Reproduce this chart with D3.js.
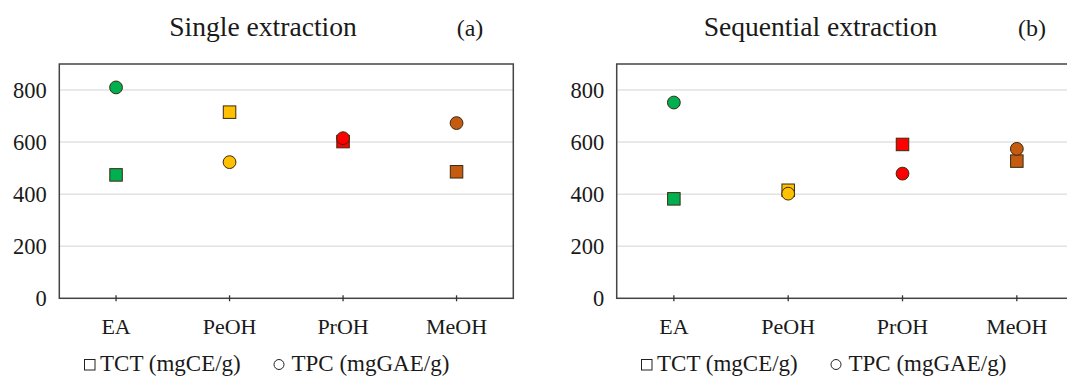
<!DOCTYPE html>
<html>
<head>
<meta charset="utf-8">
<script src="https://cdn.jsdelivr.net/npm/d3@7"></script>
<style>
  body { margin: 0; background: #fff; }
  svg text { font-family: "Liberation Serif", "Times New Roman", serif; fill: #1a1a1a; }
</style>
</head>
<body>
<div id="chart"></div>
<script>
// data
var solvents = ["EA", "PeOH", "PrOH", "MeOH"];
var solventColors = ["#00B050", "#FFC000", "#FF0000", "#C55A11"];
var singleTCT = [474, 715, 602, 486];
var singleTPC = [810, 523, 615, 673];
var seqTCT = [382, 415, 591, 527];
var seqTPC = [752, 402, 479, 574];
var yTicks = [0, 200, 400, 600, 800];
var legendLabels = ["TCT (mgCE/g)", "TPC (mgGAE/g)"];

var W = 1067, H = 376;
var svg = d3.select("#chart").append("svg")
    .attr("width", W)
    .attr("height", H);

var yScale = d3.scaleLinear().domain([0, 900]).range([298.3, 64]);

function drawPanel(p) {
    var g = svg.append("g");
    var xScale = d3.scaleBand().domain(solvents).range([p.left, p.right]).padding(0);
    var color = d3.scaleOrdinal().domain(solvents).range(solventColors);
    var cx = function(d) { return xScale(d) + xScale.bandwidth() / 2; };

    // gridlines
    g.append("g").selectAll("line")
        .data(yTicks.filter(function(d) { return d > 0; }))
        .enter().append("line")
        .attr("x1", p.left).attr("x2", p.right)
        .attr("y1", function(d) { return yScale(d); })
        .attr("y2", function(d) { return yScale(d); })
        .attr("stroke", "#e2e2e2")
        .attr("stroke-width", 1.5);

    // frame
    g.append("rect")
        .attr("x", p.left).attr("y", yScale(900))
        .attr("width", p.right - p.left)
        .attr("height", yScale(0) - yScale(900))
        .attr("fill", "none")
        .attr("stroke", "#444")
        .attr("stroke-width", 1.5);

    // y tick labels
    g.append("g").selectAll("text")
        .data(yTicks)
        .enter().append("text")
        .attr("x", p.left - 12.5)
        .attr("y", function(d) { return yScale(d); })
        .attr("dy", "0.35em")
        .style("text-anchor", "end")
        .style("font-size", "22.5px")
        .text(function(d) { return d; });

    // x ticks + labels
    g.append("g").selectAll("line")
        .data(solvents)
        .enter().append("line")
        .attr("x1", cx).attr("x2", cx)
        .attr("y1", yScale(0) - 3).attr("y2", yScale(0) + 3)
        .attr("stroke", "#333")
        .attr("stroke-width", 1.3);
    g.append("g").selectAll("text")
        .data(solvents)
        .enter().append("text")
        .attr("x", cx)
        .attr("y", 334)
        .style("text-anchor", "middle")
        .style("font-size", "22px")
        .text(function(d) { return d; });

    // squares (TCT) first, circles (TPC) on top
    var s = 12.5;
    g.append("g").selectAll("rect")
        .data(p.tct)
        .enter().append("rect")
        .attr("x", function(d, i) { return cx(solvents[i]) - s / 2; })
        .attr("y", function(d) { return yScale(d) - s / 2; })
        .attr("width", s).attr("height", s)
        .attr("fill", function(d, i) { return color(solvents[i]); })
        .attr("stroke", "#3a2a10")
        .attr("stroke-width", 1);
    g.append("g").selectAll("circle")
        .data(p.tpc)
        .enter().append("circle")
        .attr("cx", function(d, i) { return cx(solvents[i]); })
        .attr("cy", function(d) { return yScale(d); })
        .attr("r", 6.4)
        .attr("fill", function(d, i) { return color(solvents[i]); })
        .attr("stroke", "#3a2a10")
        .attr("stroke-width", 1);

    // titles
    g.append("text")
        .attr("x", p.titleX).attr("y", 36)
        .style("text-anchor", "middle")
        .style("font-size", "27.6px")
        .text(p.title);
    g.append("text")
        .attr("x", p.tagX).attr("y", 36)
        .style("text-anchor", "middle")
        .style("font-size", "24px")
        .text(p.tag);

    // legend at the bottom edge
    var ly = 370.5;
    g.append("rect")
        .attr("x", p.legX).attr("y", ly - 11)
        .attr("width", 10.5).attr("height", 10.5)
        .attr("fill", "none").attr("stroke", "#222").attr("stroke-width", 1);
    g.append("text")
        .attr("x", p.legX + 15.5).attr("y", ly)
        .style("font-size", "23px")
        .text(legendLabels[0]);
    g.append("circle")
        .attr("cx", p.legX + 194.5).attr("cy", ly - 6)
        .attr("r", 5)
        .attr("fill", "none").attr("stroke", "#222").attr("stroke-width", 1);
    g.append("text")
        .attr("x", p.legX + 207).attr("y", ly)
        .style("font-size", "23px")
        .text(legendLabels[1]);
}

drawPanel({
    left: 59.3, right: 513.3, tct: singleTCT, tpc: singleTPC,
    title: "Single extraction", titleX: 263, tag: "(a)", tagX: 470, legX: 84.5
});
drawPanel({
    left: 616.7, right: 1074, tct: seqTCT, tpc: seqTPC,
    title: "Sequential extraction", titleX: 820.5, tag: "(b)", tagX: 1032, legX: 641.5
});
</script>
</body>
</html>
